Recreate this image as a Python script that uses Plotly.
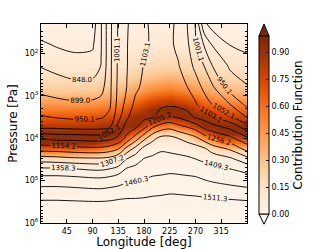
import numpy as np
import plotly.graph_objects as go

# ---------------- data ----------------
lon_T = [0, 30, 60, 90, 105, 120, 135, 150, 165, 180, 195, 210, 225, 240, 255, 270, 285, 300, 330, 360]
logp_T = [1.3, 1.8, 2.3, 2.8, 3.2, 3.5, 3.75, 4.0, 4.25, 4.5, 4.75, 5.0, 5.5, 6.0]
# temperature [K], one row per log10 pressure level in logp_T
temp_T = [
    [768, 758, 760, 770, 845, 935, 1005, 1048, 1072, 1095, 1112, 1120, 1118, 1088, 1054, 998, 860, 825, 805, 804],
    [806, 792, 784, 790, 845, 935, 1008, 1050, 1075, 1098, 1108, 1112, 1110, 1095, 1065, 1006, 948, 896, 848, 835],
    [846, 831, 821, 821, 850, 935, 1010, 1050, 1080, 1106, 1107, 1108, 1108, 1106, 1082, 1038, 1002, 950, 893, 869],
    [884, 874, 864, 867, 880, 937, 1013, 1053, 1093, 1115, 1112, 1115, 1118, 1120, 1105, 1080, 1040, 1008, 927, 904],
    [921, 913, 909, 911, 920, 942, 1020, 1070, 1116, 1125, 1128, 1135, 1143, 1140, 1130, 1109, 1080, 1050, 1003, 936],
    [955, 946, 940, 940, 945, 962, 1035, 1095, 1134, 1138, 1151, 1200, 1213, 1200, 1178, 1148, 1133, 1105, 1065, 997],
    [996, 995, 989, 988, 990, 1001, 1070, 1128, 1150, 1196, 1256, 1287, 1298, 1279, 1262, 1240, 1198, 1180, 1144, 1082],
    [1099, 1086, 1086, 1081, 1083, 1089, 1113, 1171, 1230, 1293, 1344, 1375, 1375, 1358, 1340, 1320, 1285, 1252, 1220, 1164],
    [1184, 1180, 1172, 1167, 1168, 1180, 1205, 1274, 1325, 1377, 1391, 1403, 1400, 1395, 1390, 1382, 1367, 1336, 1301, 1238],
    [1287, 1281, 1273, 1271, 1271, 1278, 1303, 1364, 1389, 1413, 1420, 1427, 1425, 1422, 1418, 1411, 1400, 1392, 1372, 1330],
    [1376, 1376, 1369, 1358, 1357, 1369, 1388, 1420, 1427, 1438, 1443, 1447, 1449, 1447, 1444, 1440, 1434, 1427, 1414, 1398],
    [1438, 1438, 1434, 1429, 1428, 1434, 1440, 1453, 1456, 1463, 1473, 1475, 1483, 1480, 1476, 1473, 1463, 1456, 1445, 1435],
    [1517, 1517, 1515, 1513, 1513, 1515, 1520, 1522, 1522, 1523, 1525, 1527, 1528, 1528, 1527, 1526, 1525, 1523, 1520, 1516],
    [1540, 1540, 1540, 1540, 1540, 1540, 1542, 1542, 1543, 1545, 1545, 1546, 1547, 1546, 1546, 1546, 1545, 1545, 1544, 1542],
]

lon_cf = [0, 45, 90, 135, 165, 195, 225, 255, 285, 315, 360]
logp_cf = [1.3, 1.8, 2.3, 2.6, 2.9, 3.1, 3.3, 3.5, 3.7, 3.9, 4.1, 4.3, 4.5, 4.7, 5.0, 5.5, 6.0]
# contribution function, one list per longitude in lon_cf (top -> bottom)
cf_by_lon = [
    [0.04, 0.06, 0.11, 0.18, 0.28, 0.40, 0.54, 0.68, 0.83, 0.95, 0.93, 0.56, 0.16, 0.05, 0.03, 0.02, 0.01],
    [0.04, 0.06, 0.11, 0.18, 0.28, 0.40, 0.54, 0.68, 0.83, 0.95, 0.93, 0.57, 0.17, 0.05, 0.03, 0.02, 0.01],
    [0.04, 0.06, 0.11, 0.18, 0.29, 0.41, 0.56, 0.70, 0.85, 0.96, 0.91, 0.52, 0.14, 0.05, 0.03, 0.02, 0.01],
    [0.04, 0.07, 0.13, 0.21, 0.33, 0.46, 0.61, 0.76, 0.91, 0.95, 0.72, 0.30, 0.08, 0.04, 0.03, 0.02, 0.01],
    [0.05, 0.09, 0.17, 0.28, 0.43, 0.58, 0.76, 0.91, 0.93, 0.62, 0.22, 0.07, 0.035, 0.03, 0.02, 0.015, 0.01],
    [0.05, 0.10, 0.20, 0.33, 0.54, 0.72, 0.90, 0.94, 0.66, 0.25, 0.08, 0.035, 0.03, 0.02, 0.02, 0.015, 0.01],
    [0.05, 0.10, 0.22, 0.37, 0.59, 0.78, 0.95, 0.90, 0.52, 0.17, 0.055, 0.03, 0.025, 0.02, 0.02, 0.015, 0.01],
    [0.05, 0.10, 0.20, 0.33, 0.53, 0.71, 0.90, 0.95, 0.70, 0.29, 0.085, 0.038, 0.03, 0.02, 0.02, 0.015, 0.01],
    [0.05, 0.09, 0.17, 0.28, 0.43, 0.59, 0.75, 0.91, 0.94, 0.66, 0.25, 0.08, 0.035, 0.025, 0.02, 0.015, 0.01],
    [0.04, 0.07, 0.14, 0.23, 0.36, 0.49, 0.65, 0.80, 0.95, 0.90, 0.52, 0.17, 0.055, 0.035, 0.025, 0.015, 0.01],
    [0.04, 0.07, 0.13, 0.21, 0.33, 0.46, 0.61, 0.77, 0.92, 0.93, 0.62, 0.22, 0.07, 0.035, 0.025, 0.015, 0.01],
]

x_ticks = [45, 90, 135, 180, 225, 270, 315]
y_ticks = [2, 3, 4, 5, 6]
y_ticktext = ["10<sup>2</sup>", "10<sup>3</sup>", "10<sup>4</sup>", "10<sup>5</sup>", "10<sup>6</sup>"]
cb_ticks = [0.0, 0.15, 0.30, 0.45, 0.60, 0.75, 0.90]
t_start, t_step, t_end = 796.985, 51.025, 1511.4
cf_min, cf_max = 0.0, 0.99

oranges = [[0.0, "#fff5eb"], [0.125, "#fee6ce"], [0.25, "#fdd0a2"], [0.375, "#fdae6b"],
           [0.5, "#fd8d3c"], [0.625, "#f16913"], [0.75, "#d94801"], [0.875, "#a63603"], [1.0, "#7f2704"]]

FONT = "DejaVu Sans"

# ---------------- layout geometry (pixels) ----------------
W, H = 332, 249
PL, PR, PT, PB = 41, 247, 24, 223.3
def px_x(px):
    return (px - PL) / (PR - PL)
def px_y(py):
    return (PB - py) / (PB - PT)

cb_left, cb_right = 259, 269
cb_top, cb_bot = 36, 214.3

fig = go.Figure()

fig.add_trace(go.Heatmap(
    x=lon_cf, y=logp_cf, z=np.array(cf_by_lon).T,
    zsmooth="best", colorscale=oranges, zmin=cf_min, zmax=cf_max,
    colorbar=dict(
        x=px_x(cb_left), xanchor="left", xpad=0, ypad=0,
        y=px_y((cb_top + cb_bot) / 2), yanchor="middle",
        len=(cb_bot - cb_top) / (PB - PT), lenmode="fraction",
        thickness=cb_right - cb_left, thicknessmode="pixels",
        outlinewidth=1, outlinecolor="black",
        tickvals=cb_ticks, tickformat=".2f", ticks="inside", ticklen=3,
        tickcolor="black", tickfont=dict(family=FONT, size=8, color="black"),
        title=dict(text="Contribution Function", side="right",
                   font=dict(family=FONT, size=12, color="black")),
    ),
    hoverinfo="skip",
))

fig.add_trace(go.Contour(
    x=lon_T, y=logp_T, z=temp_T,
    contours=dict(start=t_start, end=t_end, size=t_step, coloring="lines",
                  showlabels=True, labelformat=".1f",
                  labelfont=dict(family=FONT, size=7, color="black")),
    colorscale=[[0, "black"], [1, "black"]], showscale=False,
    line=dict(width=0.9, smoothing=1.0),
    hoverinfo="skip",
))

# colorbar extension triangles
fig.add_shape(type="path", xref="paper", yref="paper",
              path=f"M {px_x(cb_left)},{px_y(cb_top)} L {px_x(cb_right)},{px_y(cb_top)} L {px_x((cb_left+cb_right)/2)},{px_y(PT)} Z",
              fillcolor="#7f2704", line=dict(color="black", width=1), layer="above")
fig.add_shape(type="path", xref="paper", yref="paper",
              path=f"M {px_x(cb_left)},{px_y(cb_bot)} L {px_x(cb_right)},{px_y(cb_bot)} L {px_x((cb_left+cb_right)/2)},{px_y(224.5)} Z",
              fillcolor="#fff5eb", line=dict(color="black", width=1), layer="above")

minor_y = [float(np.log10(k) + n) for n in range(1, 6) for k in range(2, 10)]
minor_y = [v for v in minor_y if 1.3 <= v <= 6]

fig.update_layout(
    width=W, height=H,
    margin=dict(l=PL, r=W - PR, t=PT, b=H - PB, autoexpand=False),
    paper_bgcolor="white", plot_bgcolor="white",
    font=dict(family=FONT, color="black"),
    showlegend=False,
    xaxis=dict(range=[0, 360], tickvals=x_ticks, ticks="inside", ticklen=4,
               tickcolor="black", showline=True, linecolor="black", linewidth=1,
               mirror="allticks", showgrid=False, zeroline=False,
               tickfont=dict(family=FONT, size=8, color="black"),
               title=dict(text="Longitude [deg]", font=dict(family=FONT, size=12, color="black"),
                          standoff=2)),
    yaxis=dict(range=[6, 1.3], tickvals=y_ticks, ticktext=y_ticktext, ticks="inside",
               ticklen=4, tickcolor="black", showline=True, linecolor="black", linewidth=1,
               mirror="allticks", showgrid=False, zeroline=False,
               minor=dict(tickvals=minor_y, ticks="inside", ticklen=2, tickcolor="black"),
               tickfont=dict(family=FONT, size=8, color="black"),
               title=dict(text="Pressure [Pa]", font=dict(family=FONT, size=12, color="black"),
                          standoff=4)),
)

fig.write_html("out.html", config={"displayModeBar": False, "staticPlot": True},
               post_script="document.body.style.margin='0px';")
